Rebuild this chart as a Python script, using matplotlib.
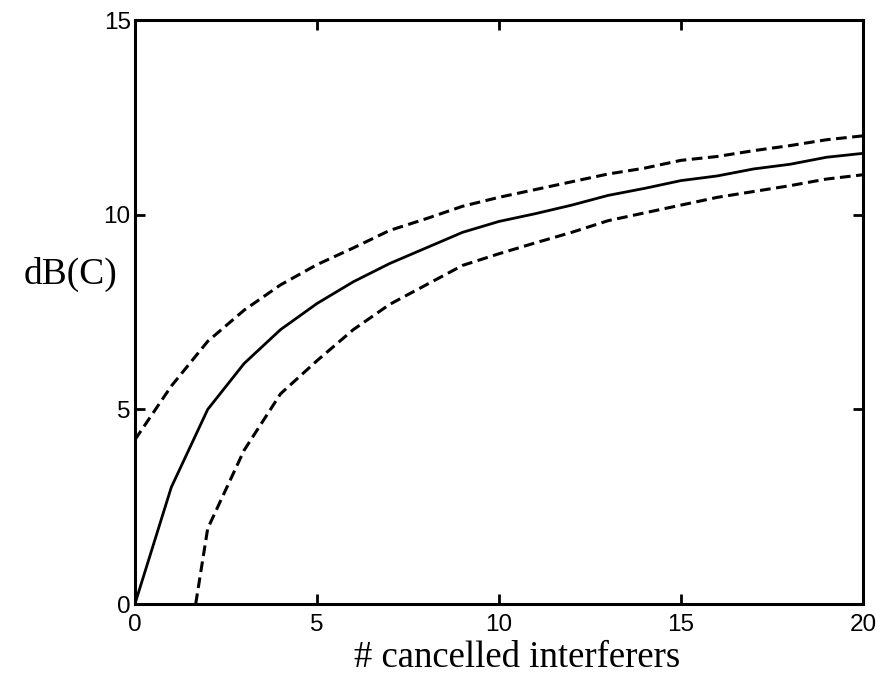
import numpy as np
import matplotlib.pyplot as plt

# values
n = [0, 1, 2, 3, 4, 5, 6, 7, 8, 9, 10, 11, 12, 13, 14, 15, 16, 17, 18, 19, 20]
mean_db = [0.0, 3.0, 5.0, 6.18, 7.05, 7.72, 8.28, 8.75, 9.15, 9.55, 9.83,
           10.03, 10.25, 10.5, 10.68, 10.88, 11.0, 11.18, 11.3, 11.48, 11.58]
upper_db = [4.22, 5.6, 6.75, 7.55, 8.2, 8.72, 9.15, 9.6, 9.9, 10.22, 10.45,
            10.65, 10.85, 11.05, 11.2, 11.4, 11.5, 11.65, 11.78, 11.93, 12.03]
n_low = [1.67, 2, 3, 4, 5, 6, 7, 8, 9, 10, 11, 12, 13, 14, 15, 16, 17, 18, 19, 20]
lower_db = [0.0, 1.94, 3.95, 5.4, 6.25, 7.05, 7.7, 8.2, 8.7, 9.0, 9.28,
            9.55, 9.85, 10.05, 10.25, 10.45, 10.6, 10.75, 10.92, 11.03]

fig = plt.figure(figsize=(8.76, 6.76), dpi=100)
ax = fig.add_axes([0.154, 0.1065, 0.831, 0.8635])

ax.plot(n, mean_db, color='black', lw=2.0)
ax.plot(n, upper_db, color='black', lw=2.2, dashes=(3.5, 1.8))
ax.plot(n_low, lower_db, color='black', lw=2.2, dashes=(3.5, 1.8))

ax.set_xlim(0, 20)
ax.set_ylim(0, 15)
ax.set_xticks([0, 5, 10, 15, 20])
ax.set_yticks([0, 5, 10, 15])
ax.tick_params(direction='in', length=7, width=2, top=True, right=True,
               labelsize=17.5)
ax.tick_params(axis='x', pad=7)
ax.tick_params(axis='y', pad=3)
for lab in ax.get_xticklabels() + ax.get_yticklabels():
    lab.set_family('Liberation Sans')
for s in ax.spines.values():
    s.set_linewidth(2.2)

ax.set_xlabel('# cancelled interferers', family='Liberation Serif', fontsize=26.5, va='top')
ax.xaxis.set_label_coords(0.525, -0.062)
ax.set_ylabel('dB(C)', family='Liberation Serif', fontsize=27, rotation=0, va='center')
ax.yaxis.set_label_coords(-0.088, 0.565)

fig.savefig('out.png', dpi=100)
